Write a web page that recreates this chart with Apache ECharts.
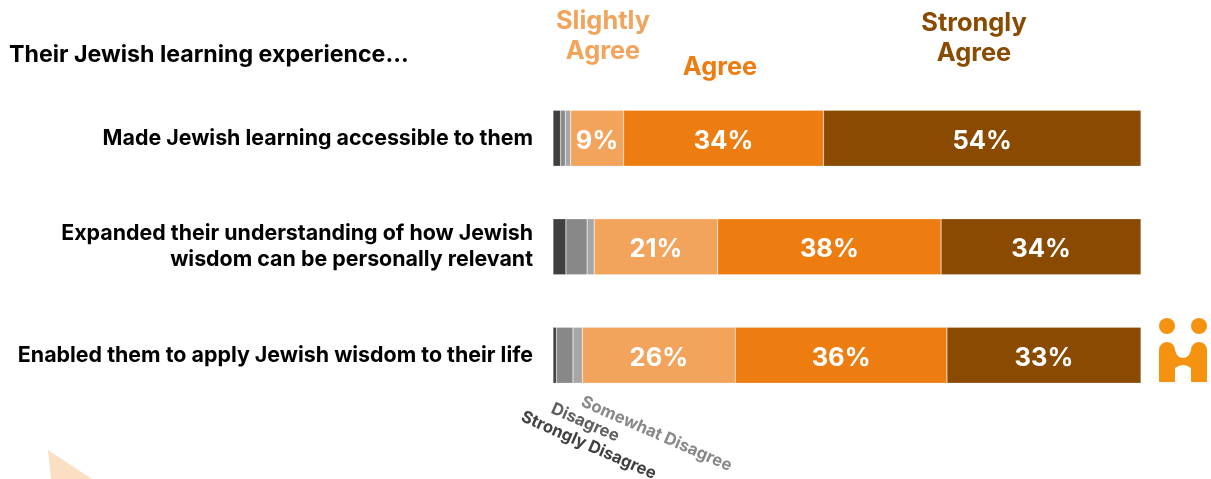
<!DOCTYPE html>
<html>
<head>
<meta charset="utf-8">
<style>html,body{margin:0;padding:0;background:#fff}#chart{width:1211px;height:479px}</style>
<script src="https://cdn.jsdelivr.net/npm/echarts@6/dist/echarts.min.js"></script>
</head>
<body>
<div id="chart"></div>
<script>
// Survey statements, top to bottom
const statements = [
  'Made Jewish learning accessible to them',
  'Expanded their understanding of how Jewish\nwisdom can be personally relevant',
  'Enabled them to apply Jewish wisdom to their life'
];
// Share of respondents per response, in percent
const stronglyDisagree = [1.3, 2.2, 0.6];
const disagree = [0.8, 3.6, 2.8];
const somewhatDisagree = [0.9, 1.2, 1.6];
const slightlyAgree = [9, 21, 26];
const agree = [34, 38, 36];
const stronglyAgree = [54, 34, 33];

const FONT = 'Inter';
const GREY1 = '#404040', GREY2 = '#888888', GREY3 = '#a6a6a6';
const ORANGE1 = '#f2a45c', ORANGE2 = '#ee7d11', BROWN = '#8a4b00';

function stack(name, data, color, labelled) {
  return {
    name, type: 'bar', stack: 'total', data, barWidth: 56,
    itemStyle: { color, borderColor: 'rgba(255,255,255,0.45)', borderWidth: 0.5 },
    label: {
      show: labelled, position: 'inside', offset: [0, 3], formatter: '{c}%',
      color: '#fff', fontFamily: FONT, fontWeight: 700, fontSize: 25.5
    }
  };
}
function heading(text, x, y, fill, size) {
  return { type: 'text', x, y, style: {
    text, fill, font: `700 ${size}px ${FONT}`, textAlign: 'center', textVerticalAlign: 'middle', lineHeight: 30
  } };
}
function slanted(text, x, y, fill) {
  return { type: 'text', x, y, rotation: -0.415, style: {
    text, fill, font: `700 16.7px ${FONT}`, textAlign: 'left', textVerticalAlign: 'middle'
  } };
}

// Outline of the lower half of the organisation mark
echarts.graphic.registerShape('markBody', echarts.graphic.extendPath(
  'M1159 382V350A8 8 0 0 1 1175 350Q1177 358 1183 358Q1189 358 1191 350A8 8 0 0 1 1207 350V382H1191V368Q1187 365 1183 365Q1179 365 1175 368V382Z'
));

const chart = echarts.init(document.getElementById('chart'), null, { renderer: 'canvas' });
chart.setOption({
  animation: false,
  backgroundColor: '#fff',
  grid: { left: 553, top: 84, width: 588, height: 325.5 },
  xAxis: { type: 'value', min: 0, max: 100, show: false },
  yAxis: {
    type: 'category', inverse: true, data: statements,
    axisLine: { show: false }, axisTick: { show: false },
    axisLabel: { margin: 20, align: 'right', color: '#000', fontFamily: FONT, fontWeight: 700, fontSize: 21.4, lineHeight: 25.5, padding: [2, 0, 0, 0] }
  },
  series: [
    stack('Strongly Disagree', stronglyDisagree, GREY1, false),
    stack('Disagree', disagree, GREY2, false),
    stack('Somewhat Disagree', somewhatDisagree, GREY3, false),
    stack('Slightly Agree', slightlyAgree, ORANGE1, true),
    stack('Agree', agree, ORANGE2, true),
    stack('Strongly Agree', stronglyAgree, BROWN, true)
  ],
  graphic: [
    { type: 'text', x: 9, y: 55, style: { text: 'Their Jewish learning experience...', fill: '#000', font: `700 23.2px ${FONT}`, textAlign: 'left', textVerticalAlign: 'middle' } },
    heading('Slightly\nAgree', 603, 36, ORANGE1, 25.4),
    heading('Agree', 720, 67, ORANGE2, 25.4),
    heading('Strongly\nAgree', 974, 38.5, BROWN, 25.4),
    slanted('Somewhat Disagree', 582, 401, GREY2),
    slanted('Disagree', 552, 408, '#5f5f5f'),
    slanted('Strongly Disagree', 522, 416, GREY1),
    // corner accent
    { type: 'polygon', shape: { points: [[48, 450], [92, 479], [51, 479]] }, style: { fill: '#fbdfc2' } },
    // organisation mark
    { type: 'circle', shape: { cx: 1167, cy: 326, r: 8 }, style: { fill: '#f59311' } },
    { type: 'circle', shape: { cx: 1199, cy: 326, r: 8 }, style: { fill: '#f59311' } },
    { type: 'markBody', style: { fill: '#f59311' } }
  ]
});
</script>
</body>
</html>
